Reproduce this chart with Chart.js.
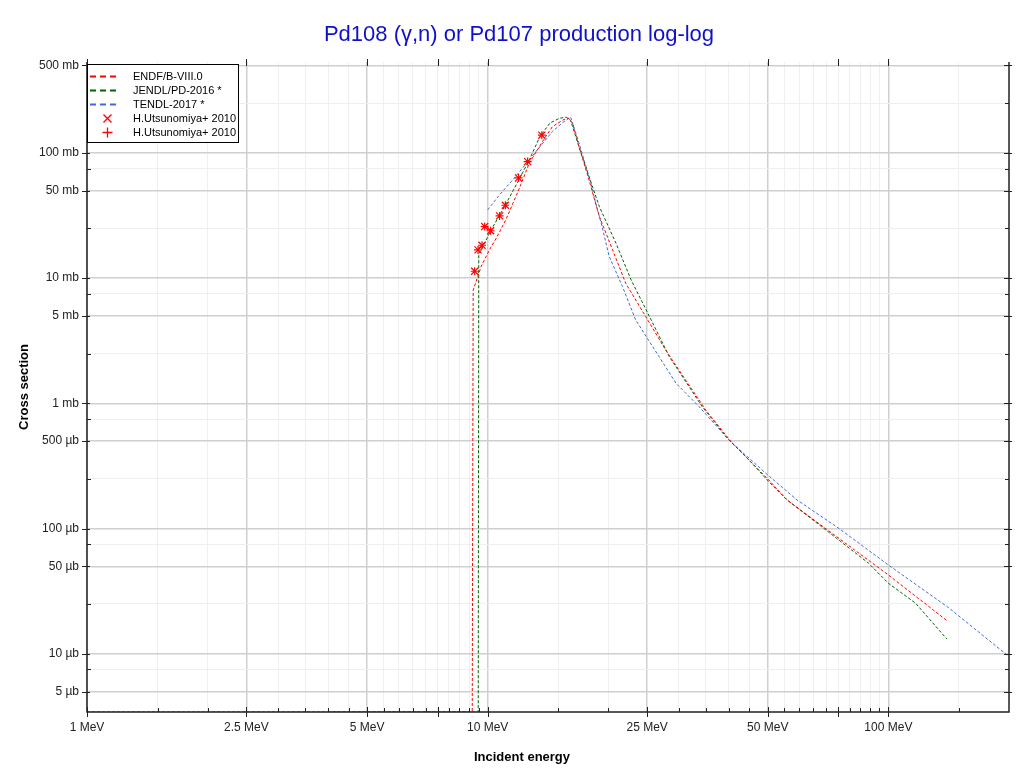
<!DOCTYPE html>
<html><head><meta charset="utf-8">
<script src="https://cdn.jsdelivr.net/npm/chart.js@4"></script>
<style>html,body{margin:0;padding:0;background:#fff}#wrap{width:1024px;height:773px;position:relative}</style>
</head><body><div id="wrap"><canvas id="c" width="1024" height="773"></canvas></div>
<script>
// ---- axis ranges ----
const X_MIN = 1, X_MAX = 200;
const Y_MIN = 0.00343, Y_MAX = 532;   // mb

// ---- data (energy in MeV, cross section in mb; 0 = zero cross section) ----
const endfE  = [4, 9.15, 9.2, 9.63, 10.1, 10.5, 11.1, 12.0, 12.7, 13.7, 14.5, 15.4, 15.9, 16.3, 16.9, 17.9, 19.0, 20.5, 22.1, 24.8, 27.8, 29.8, 35.0, 40.8, 50.3, 55.9, 75.2, 100, 140];
const endfXS = [0, 0, 8.0, 12.4, 16.8, 20.8, 29.2, 52.3, 82.8, 123, 162, 183, 190, 172, 112, 60.9, 31.0, 16.8, 9.1, 4.93, 2.67, 1.91, 0.886, 0.48, 0.244, 0.169, 0.0837, 0.0426, 0.0184];

const jendlE  = [1, 9.47, 9.5, 9.82, 10.2, 10.9, 11.9, 12.7, 13.5, 14.3, 15.1, 15.7, 16.1, 16.9, 17.9, 19.0, 20.9, 22.8, 25.1, 28.4, 34.3, 40.0, 44.9, 50.3, 55.9, 75.2, 89.3, 100, 117, 140];
const jendlXS = [0, 0, 15.5, 19.0, 24.3, 35.1, 59.0, 87.9, 135, 173, 189, 193, 182, 112, 64.7, 37.2, 19.0, 9.67, 5.24, 2.36, 0.941, 0.51, 0.353, 0.237, 0.169, 0.0811, 0.0528, 0.0366, 0.0253, 0.0131];

const tendlE  = [10.0, 10.7, 11.55, 12.5, 13.5, 14.5, 15.4, 16.1, 16.9, 18.1, 18.6, 19.2, 20.1, 21.7, 23.4, 25.8, 29.5, 33.7, 40.0, 49.4, 59.2, 75.2, 100, 141, 200];
const tendlXS = [35.1, 46.2, 60.9, 82.8, 112, 148, 175, 193, 120, 57.3, 39.6, 27.5, 14.9, 8.55, 4.64, 2.84, 1.45, 0.941, 0.51, 0.277, 0.169, 0.1005, 0.0512, 0.0235, 0.0095];

const expE  = [9.28, 9.46, 9.68, 9.83, 10.17, 10.71, 11.07, 11.94, 12.58, 13.65];
const expXS = [11.35, 16.8, 18.3, 25.8, 23.9, 31.4, 38.2, 63.1, 85.2, 138.5];

// ---- tick values ----
const xLabeled = [1, 2.5, 5, 10, 25, 50, 100];
const xMajorPlain = [7.5, 75];
const xMinor = [1.5, 2, 3, 3.5, 4, 4.5, 5.5, 6, 6.5, 7, 8, 8.5, 9, 9.5, 15, 20, 30, 35, 40, 45, 55, 60, 65, 70, 80, 85, 90, 95, 150];
const yLabeled = [0.005, 0.01, 0.05, 0.1, 0.5, 1, 5, 10, 50, 100, 500];
const yMinor = [0.0075, 0.025, 0.075, 0.25, 0.75, 2.5, 7.5, 25, 75, 250];

const TITLE = 'Pd108 (\u03b3,n) or Pd107 production log-log';
const X_TITLE = 'Incident energy';
const Y_TITLE = 'Cross section';

const pts = (xs, ys) => xs.map((x, i) => ({x: x, y: ys[i] > 0 ? ys[i] : Y_MIN}));
const allX = xLabeled.concat(xMajorPlain, xMinor).sort((a, b) => a - b);
const allY = yLabeled.concat(yMinor).sort((a, b) => a - b);
const FONT = '"Liberation Sans", Arial, Helvetica, sans-serif';

function yLabel(v) {
  if (v >= 1) return v + ' mb';
  return Math.round(v * 1000) + ' \u00b5b';
}

const framePlugin = {
  id: 'frame',
  afterDraw(chart) {
    const {ctx, chartArea: a} = chart;
    const xs = chart.scales.x, ys = chart.scales.y;
    ctx.save();
    ctx.strokeStyle = '#222';
    ctx.lineWidth = 1.5;
    ctx.beginPath();
    ctx.moveTo(a.left, a.top); ctx.lineTo(a.left, a.bottom);
    ctx.lineTo(a.right, a.bottom); ctx.lineTo(a.right, a.top);
    ctx.stroke();
    ctx.lineWidth = 1;
    ctx.beginPath();
    allX.forEach(v => {
      const px = Math.round(xs.getPixelForValue(v)) + 0.5;
      const maj = xLabeled.includes(v) || xMajorPlain.includes(v);
      ctx.moveTo(px, a.bottom - (maj ? 5 : 4)); ctx.lineTo(px, a.bottom + (maj ? 5 : 0));
      if (maj) { ctx.moveTo(px, a.top + 4); ctx.lineTo(px, a.top - 3); }
    });
    allY.forEach(v => {
      const py = Math.round(ys.getPixelForValue(v)) + 0.5;
      const maj = yLabeled.includes(v);
      ctx.moveTo(a.left - (maj ? 5 : 0), py); ctx.lineTo(a.left + (maj ? 3 : 4), py);
      ctx.moveTo(a.right - (maj ? 5 : 4), py); ctx.lineTo(a.right + (maj ? 3 : 0), py);
    });
    ctx.stroke();
    // titles
    ctx.fillStyle = '#1010cc';
    ctx.font = '22px ' + FONT;
    ctx.textAlign = 'center'; ctx.textBaseline = 'middle';
    ctx.fillText(TITLE, 519, 35);
    ctx.fillStyle = '#000';
    ctx.font = 'bold 13px ' + FONT;
    ctx.fillText(X_TITLE, 522, 757);
    ctx.restore();
  }
};

const legendPlugin = {
  id: 'legendBox',
  afterDraw(chart) {
    const {ctx, chartArea: a} = chart;
    const x0 = a.left, y0 = a.top + 2, w = 151, h = 78;
    ctx.save();
    ctx.fillStyle = '#fff'; ctx.fillRect(x0, y0, w, h);
    ctx.strokeStyle = '#000'; ctx.lineWidth = 1; ctx.setLineDash([]);
    ctx.strokeRect(x0 + 0.5, y0 + 0.5, w, h);
    ctx.font = '11px ' + FONT; ctx.textBaseline = 'middle'; ctx.textAlign = 'left';
    chart.data.datasets.forEach((ds, i) => {
      const cy = Math.round(y0 + 12 + i * 14) + 0.5;
      ctx.strokeStyle = ds.borderColor;
      if (ds.showLine) {
        ctx.lineWidth = 2; ctx.setLineDash([6, 4]);
        ctx.beginPath(); ctx.moveTo(x0 + 3, cy); ctx.lineTo(x0 + 30, cy); ctx.stroke();
        ctx.setLineDash([]);
      } else {
        ctx.lineWidth = 1.3; const r = 4; const cx = x0 + 20.5;
        ctx.beginPath();
        if (ds.pointStyle === 'crossRot') {
          ctx.moveTo(cx - r, cy - r); ctx.lineTo(cx + r, cy + r);
          ctx.moveTo(cx + r, cy - r); ctx.lineTo(cx - r, cy + r);
        } else {
          ctx.moveTo(cx - r - 1, cy); ctx.lineTo(cx + r + 1, cy);
          ctx.moveTo(cx, cy - r - 1); ctx.lineTo(cx, cy + r + 1);
        }
        ctx.stroke();
      }
      ctx.fillStyle = '#000';
      ctx.fillText(ds.label, x0 + 46, cy);
    });
    ctx.restore();
  }
};

const lineDs = (label, xs, ys, color) => ({
  label, data: pts(xs, ys), showLine: true, borderColor: color, backgroundColor: color,
  borderWidth: 1, borderDash: [3, 2], pointRadius: 0, pointHoverRadius: 0, tension: 0, fill: false, order: 1
});

new Chart(document.getElementById('c'), {
  type: 'scatter',
  data: {
    datasets: [
      lineDs('ENDF/B-VIII.0', endfE, endfXS, '#ff0000'),
      lineDs('JENDL/PD-2016 *', jendlE, jendlXS, '#006400'),
      lineDs('TENDL-2017 *', tendlE, tendlXS, '#4169e1'),
      {label: 'H.Utsunomiya+ 2010', data: pts(expE, expXS), showLine: false, pointStyle: 'crossRot',
       pointRadius: 5, pointHoverRadius: 5, borderColor: '#ff0000', backgroundColor: '#ff0000', pointBorderWidth: 1.2, order: 0},
      {label: 'H.Utsunomiya+ 2010', data: pts(expE, expXS), showLine: false, pointStyle: 'cross',
       pointRadius: 4, pointHoverRadius: 4, borderColor: '#ff0000', backgroundColor: '#ff0000', pointBorderWidth: 1.2, order: 0}
    ]
  },
  options: {
    responsive: false, animation: false, devicePixelRatio: 1,
    layout: {padding: {top: 62, right: 15, left: 0, bottom: 0}},
    plugins: {legend: {display: false}, title: {display: false}, tooltip: {enabled: false}},
    scales: {
      x: {
        type: 'logarithmic', min: X_MIN, max: X_MAX,
        afterBuildTicks: s => { s.ticks = allX.map(v => ({value: v})); },
        afterFit: s => { s.height = 61; },
        border: {display: false},
        grid: {
          drawTicks: false,
          color: c => (c.tick && xLabeled.includes(c.tick.value)) ? '#cfcfcf' : '#efefef',
          lineWidth: c => (c.tick && xLabeled.includes(c.tick.value)) ? 1.5 : 1
        },
        ticks: {
          autoSkip: false, maxRotation: 0, padding: 8, color: '#222',
          font: {family: FONT, size: 12},
          callback: v => xLabeled.includes(v) ? v + ' MeV' : ''
        },
        title: {display: false}
      },
      y: {
        type: 'logarithmic', min: Y_MIN, max: Y_MAX,
        afterBuildTicks: s => { s.ticks = allY.map(v => ({value: v})); },
        afterFit: s => { s.width = 87; },
        border: {display: false},
        grid: {
          drawTicks: false,
          color: c => (c.tick && yLabeled.includes(c.tick.value)) ? '#cfcfcf' : '#efefef',
          lineWidth: c => (c.tick && yLabeled.includes(c.tick.value)) ? 1.5 : 1
        },
        ticks: {
          autoSkip: false, padding: 8, color: '#222',
          font: {family: FONT, size: 12},
          callback: v => yLabeled.includes(v) ? yLabel(v) : ''
        },
        title: {display: true, text: Y_TITLE, color: '#000', font: {family: FONT, size: 13, weight: 'bold'}, padding: {top: 17, bottom: 0}}
      }
    }
  },
  plugins: [framePlugin, legendPlugin]
});
</script>
</body></html>
